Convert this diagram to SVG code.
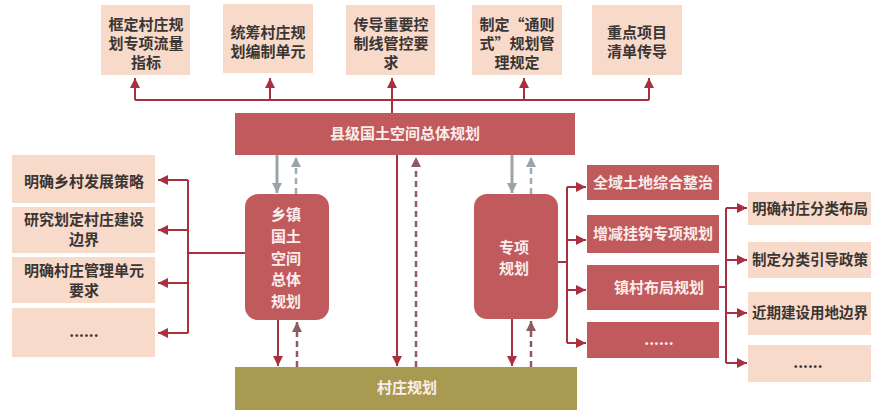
<svg xmlns="http://www.w3.org/2000/svg" width="871" height="410" viewBox="0 0 871 410">
<style>
.peach{fill:#F8DACA}
.red{fill:#C05A5C}
.olive{fill:#A99A52}
.dt{font-family:"Noto Sans CJK SC","Noto Sans",sans-serif;font-size:15px;font-weight:bold;fill:#3b3533;text-anchor:middle}
.rt{font-family:"Noto Sans CJK SC","Noto Sans",sans-serif;font-size:14.5px;font-weight:bold;fill:#3b3533;text-anchor:start}
.wt{font-family:"Noto Sans CJK SC","Noto Sans",sans-serif;font-size:15px;font-weight:bold;fill:#FBEDEA;text-anchor:middle}
.ln{fill:none;stroke:#A8303F;stroke-width:2}
.gr{fill:none;stroke:#9AA4A9;stroke-width:3}
.gd{fill:none;stroke:#A3AAAE;stroke-width:2.5;stroke-dasharray:6 4}
.rd{fill:none;stroke:#8E5A63;stroke-width:2.5;stroke-dasharray:6 4}
</style>
<defs>
<marker id="ar" markerUnits="userSpaceOnUse" markerWidth="12" markerHeight="12" refX="10" refY="6" orient="auto"><path d="M0,1 L10,6 L0,11 Z" fill="#A8303F"/></marker>
<marker id="ag" markerUnits="userSpaceOnUse" markerWidth="12" markerHeight="12" refX="10" refY="6" orient="auto"><path d="M0,1 L10,6 L0,11 Z" fill="#9AA4A9"/></marker>
<marker id="ad" markerUnits="userSpaceOnUse" markerWidth="12" markerHeight="12" refX="10" refY="6" orient="auto"><path d="M0,1 L10,6 L0,11 Z" fill="#8E5A63"/></marker>
</defs>

<g id="connectors">
<path class="ln" d="M135,100 H649"/>
<path class="ln" d="M392,113 V78" marker-end="url(#ar)"/>
<path class="ln" d="M135,100 V78" marker-end="url(#ar)"/>
<path class="ln" d="M270,100 V78" marker-end="url(#ar)"/>
<path class="ln" d="M524,100 V78" marker-end="url(#ar)"/>
<path class="ln" d="M649,100 V78" marker-end="url(#ar)"/>

<path class="gr" d="M277,155 V193" marker-end="url(#ag)"/>
<path class="gd" d="M296,194 V157" marker-end="url(#ag)"/>
<path class="gr" d="M512,155 V193" marker-end="url(#ag)"/>
<path class="gd" d="M531,194 V157" marker-end="url(#ag)"/>

<path class="ln" d="M278,320 V366" marker-end="url(#ar)"/>
<path class="rd" d="M297,367 V322" marker-end="url(#ad)"/>
<path class="ln" d="M512,319 V366" marker-end="url(#ar)"/>
<path class="rd" d="M531,367 V321" marker-end="url(#ad)"/>
<path class="ln" d="M397,155 V366" marker-end="url(#ar)"/>
<path class="rd" d="M416,367 V157" marker-end="url(#ad)"/>

<path class="ln" d="M245,253 H188 M188,180 V333"/>
<path class="ln" d="M188,180 H158" marker-end="url(#ar)"/>
<path class="ln" d="M188,230 H158" marker-end="url(#ar)"/>
<path class="ln" d="M188,283 H158" marker-end="url(#ar)"/>
<path class="ln" d="M188,333 H158" marker-end="url(#ar)"/>

<path class="ln" d="M558,262 H567 M567,187 V343"/>
<path class="ln" d="M567,187 H586" marker-end="url(#ar)"/>
<path class="ln" d="M567,240 H586" marker-end="url(#ar)"/>
<path class="ln" d="M567,290 H586" marker-end="url(#ar)"/>
<path class="ln" d="M567,343 H586" marker-end="url(#ar)"/>

<path class="ln" d="M719,287 H726 M726,208 V363"/>
<path class="ln" d="M726,208 H747" marker-end="url(#ar)"/>
<path class="ln" d="M726,260 H747" marker-end="url(#ar)"/>
<path class="ln" d="M726,313 H747" marker-end="url(#ar)"/>
<path class="ln" d="M726,363 H747" marker-end="url(#ar)"/>
</g>

<g id="top1"><rect class="peach" x="101" y="5" width="89" height="70"/>
<text class="dt" x="146" y="30">框定村庄规</text><text class="dt" x="146" y="49">划专项流量</text><text class="dt" x="146" y="68">指标</text></g>
<g id="top2"><rect class="peach" x="223" y="4" width="90" height="69"/>
<text class="dt" x="268" y="38">统筹村庄规</text><text class="dt" x="268" y="57">划编制单元</text></g>
<g id="top3"><rect class="peach" x="346" y="5" width="89" height="70"/>
<text class="dt" x="391" y="30">传导重要控</text><text class="dt" x="391" y="49">制线管控要</text><text class="dt" x="391" y="68">求</text></g>
<g id="top4"><rect class="peach" x="472" y="5" width="90" height="70"/>
<text class="dt" x="517" y="30">制定“通则</text><text class="dt" x="517" y="49">式”规划管</text><text class="dt" x="517" y="68">理规定</text></g>
<g id="top5"><rect class="peach" x="592" y="5" width="90" height="70"/>
<text class="dt" x="637" y="38">重点项目</text><text class="dt" x="637" y="57">清单传导</text></g>

<g id="county"><rect class="red" x="235" y="113" width="340" height="42"/>
<text class="wt" x="405" y="139">县级国土空间总体规划</text></g>

<g id="township"><rect class="red" x="245" y="194" width="84" height="126" rx="13"/>
<text class="wt" x="286" y="220">乡镇</text><text class="wt" x="286" y="242">国土</text><text class="wt" x="286" y="264">空间</text><text class="wt" x="286" y="285">总体</text><text class="wt" x="286" y="307">规划</text></g>

<g id="special"><rect class="red" x="474" y="194" width="84" height="125" rx="13"/>
<text class="wt" x="514" y="253">专项</text><text class="wt" x="514" y="274">规划</text></g>

<g id="village"><rect class="olive" x="235" y="367" width="342" height="43"/>
<text class="wt" x="407" y="393">村庄规划</text></g>

<g id="left1"><rect class="peach" x="12" y="155" width="143" height="48"/><text class="dt" x="84" y="187">明确乡村发展策略</text></g>
<g id="left2"><rect class="peach" x="12" y="207" width="143" height="46"/><text class="dt" x="84" y="225">研究划定村庄建设</text><text class="dt" x="84" y="245">边界</text></g>
<g id="left3"><rect class="peach" x="12" y="257" width="143" height="46"/><text class="dt" x="84" y="276">明确村庄管理单元</text><text class="dt" x="84" y="296">要求</text></g>
<g id="left4"><rect class="peach" x="12" y="308" width="143" height="49"/><text class="dt" x="84" y="337">......</text></g>

<g id="mid1"><rect class="red" x="587" y="165" width="132" height="35"/><text class="wt" x="653" y="188">全域土地综合整治</text></g>
<g id="mid2"><rect class="red" x="587" y="215" width="132" height="38"/><text class="wt" x="653" y="239">增减挂钩专项规划</text></g>
<g id="mid3"><rect class="red" x="587" y="265" width="132" height="45"/><text class="wt" x="659" y="293">镇村布局规划</text></g>
<g id="mid4"><rect class="red" x="587" y="322" width="132" height="36"/><text class="wt" x="659" y="345">......</text></g>

<g id="right1"><rect class="peach" x="748" y="192" width="140" height="33"/><text class="rt" x="752" y="214">明确村庄分类布局</text></g>
<g id="right2"><rect class="peach" x="748" y="242" width="140" height="36"/><text class="rt" x="752" y="265">制定分类引导政策</text></g>
<g id="right3"><rect class="peach" x="748" y="292" width="140" height="43"/><text class="rt" x="752" y="318">近期建设用地边界</text></g>
<g id="right4"><rect class="peach" x="748" y="345" width="140" height="37"/><text class="dt" x="808" y="368">......</text></g>
</svg>
